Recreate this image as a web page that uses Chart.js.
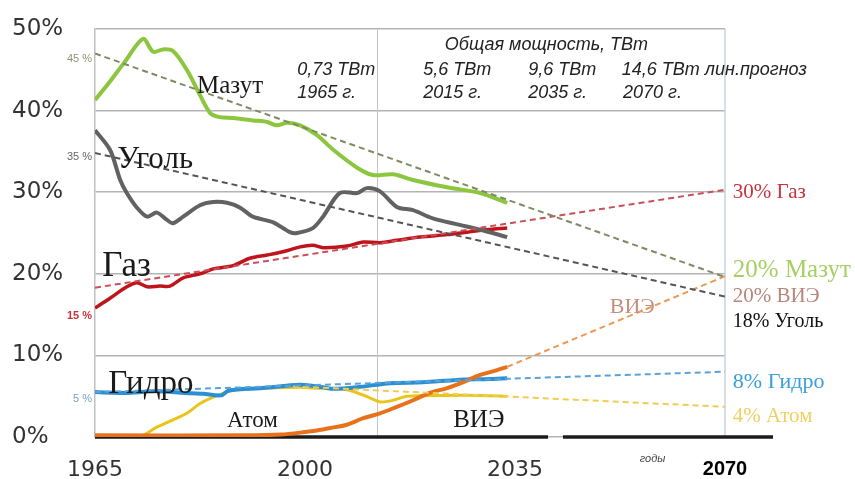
<!DOCTYPE html>
<html lang="ru">
<head>
<meta charset="utf-8">
<title>Доли источников в мировой энергетике</title>
<script src="https://cdn.jsdelivr.net/npm/chart.js@4.4.1/dist/chart.umd.min.js"></script>
<style>
  html, body { margin: 0; padding: 0; background: #fff; }
</style>
</head>
<body>
<canvas id="shareChart" width="855" height="479"></canvas>
<script>
// ---- data (годы / доля, %) ----
const xTicks = [1965, 2000, 2035, 2070];
const yTicks = [0, 10, 20, 30, 40, 50];

const mazutYears = [1965, 1967, 1970, 1973, 1974.7, 1976.3, 1978, 1980.3, 1982.5, 1984.2, 1985.8, 1988, 1991.3, 1993.7, 1995.3, 1997, 1999.2, 2002, 2004.7, 2008.7, 2011.3, 2014.7, 2018, 2023.7, 2029.2, 2033.7];
const mazut = [41.3, 43.1, 46.0, 48.8, 47.2, 47.5, 47.3, 45.0, 41.9, 39.7, 39.2, 39.1, 38.8, 38.6, 38.2, 38.5, 38.2, 37.0, 35.2, 33.0, 32.1, 32.2, 31.5, 30.6, 29.9, 28.7];

const coalYears = [1965, 1967.5, 1969.2, 1970.3, 1972, 1973.7, 1975.3, 1977, 1978, 1979.7, 1982.5, 1984.7, 1987, 1989.2, 1991.3, 1994.7, 1997.5, 1998.7, 2001.3, 2003, 2005.8, 2008.7, 2010.3, 2012.5, 2015.3, 2018, 2021.3, 2025.8, 2029.2, 2033.7];
const coal = [37.6, 35.2, 31.5, 29.9, 28.1, 27.0, 27.5, 26.6, 26.2, 27.0, 28.4, 28.8, 28.7, 28.1, 27.0, 26.3, 25.1, 25.0, 25.6, 27.0, 29.9, 29.9, 30.5, 30.1, 28.2, 27.8, 26.8, 26.0, 25.4, 24.5];

const gasYears = [1965, 1967.5, 1970.3, 1972, 1973.7, 1975.8, 1977.5, 1979.7, 1982.5, 1984.7, 1988, 1990.8, 1993.7, 1996.3, 1999.2, 2001.3, 2003, 2007, 2009.7, 2012.5, 2015.3, 2019.2, 2023.7, 2027, 2030.3, 2033.7];
const gas = [15.8, 17.0, 18.4, 18.9, 18.4, 18.5, 18.5, 19.5, 20.0, 20.6, 21.0, 21.9, 22.3, 22.7, 23.3, 23.5, 23.2, 23.4, 23.9, 23.8, 24.1, 24.5, 24.8, 25.1, 25.4, 25.6];

const hydroYears = [1965, 1970, 1975, 1980, 1983, 1986, 1987.3, 1993, 1999.2, 2003, 2004.7, 2008.7, 2014.2, 2019.7, 2025.3, 2030.8, 2033.7];
const hydro = [5.5, 5.4, 5.6, 5.4, 5.3, 5.1, 5.7, 6.0, 6.4, 6.1, 5.9, 6.1, 6.6, 6.7, 7.0, 7.1, 7.2];

const atomYears = [1965, 1972.5, 1975.3, 1978, 1980.3, 1982.5, 1984.7, 1987, 1989.2, 1993.7, 1999.2, 2001.3, 2007, 2010.8, 2012.5, 2014.7, 2017, 2023.7, 2029.2, 2033.7];
const atom = [0, 0.1, 1.2, 2.1, 2.9, 4.1, 4.9, 5.5, 5.9, 6.0, 6.1, 6.0, 5.8, 4.8, 4.3, 4.5, 5.0, 5.1, 5.1, 5.0];

const resYears = [1965, 1990, 1996, 2000, 2002, 2004.2, 2007, 2009.7, 2012.5, 2015.3, 2018, 2020.8, 2023.7, 2026.3, 2029.2, 2032, 2033.7];
const res = [0.2, 0.2, 0.3, 0.6, 0.8, 1.1, 1.5, 2.3, 2.9, 3.7, 4.5, 5.4, 6.0, 6.7, 7.6, 8.2, 8.6];

// линейные прогнозы
const trendYears = [1965, 2070];
const mazutTrend = [47.0, 19.6];
const coalTrend = [34.8, 17.2];
const gasTrend = [18.3, 30.3];
const hydroTrend = [5.5, 8.0];
const atomTrendYears = [1998, 2070];
const atomTrend = [6.2, 3.7];
const resTrendYears = [2033.7, 2070];
const resTrend = [8.6, 19.7];

const toPoints = (xs, ys) => xs.map((x, i) => ({ x: x, y: ys[i] }));

const SERIF = "'Liberation Serif', 'DejaVu Serif', serif";
const SANS = "'Liberation Sans', Arial, sans-serif";

// подписи (позиции в координатах год / %)
const notes = [
  { t: "Мазут", x: 1982, y: 42.2, f: "25px " + SERIF, c: "#1a1a1a" },
  { t: "Уголь", x: 1968.7, y: 33.0, f: "31px " + SERIF, c: "#1a1a1a" },
  { t: "Газ", x: 1966.2, y: 19.7, f: "35px " + SERIF, c: "#1a1a1a" },
  { t: "Гидро", x: 1967.2, y: 5.4, f: "33px " + SERIF, c: "#1a1a1a" },
  { t: "Атом", x: 1987, y: 1.2, f: "23px " + SERIF, c: "#1a1a1a" },
  { t: "ВИЭ", x: 2024.7, y: 1.2, f: "25px " + SERIF, c: "#1a1a1a" },
  { t: "ВИЭ", x: 2050.8, y: 15.2, f: "22px " + SERIF, c: "#c4907e" },
  { t: "30% Газ", x: 2071.3, y: 29.3, f: "21px " + SERIF, c: "#c8323c" },
  { t: "20% Мазут", x: 2071.3, y: 19.6, f: "25px " + SERIF, c: "#a6d064" },
  { t: "20% ВИЭ", x: 2071.3, y: 16.5, f: "21px " + SERIF, c: "#b8857c" },
  { t: "18% Уголь", x: 2071.3, y: 13.5, f: "20px " + SERIF, c: "#111" },
  { t: "8% Гидро", x: 2071.3, y: 6.0, f: "22px " + SERIF, c: "#3a9fd6" },
  { t: "4% Атом", x: 2071.3, y: 1.8, f: "21px " + SERIF, c: "#f0d060" },
  { t: "45 %", x: 1964.5, y: 46.3, f: "11px " + SANS, c: "#8a9870", a: "right" },
  { t: "35 %", x: 1964.5, y: 34.3, f: "11px " + SANS, c: "#666", a: "right" },
  { t: "15 %", x: 1964.5, y: 14.8, f: "bold 11px " + SANS, c: "#c8323c", a: "right" },
  { t: "5 %", x: 1964.5, y: 4.6, f: "11px " + SANS, c: "#7aa0c8", a: "right" },
  { t: "Общая мощность, ТВт", x: 2023.3, y: 47.4, f: "italic 18px " + SANS, c: "#222" },
  { t: "0,73 ТВт", x: 1998.7, y: 44.4, f: "italic 18px " + SANS, c: "#222" },
  { t: "1965 г.", x: 1998.7, y: 41.5, f: "italic 18px " + SANS, c: "#222" },
  { t: "5,6 ТВт", x: 2019.7, y: 44.4, f: "italic 18px " + SANS, c: "#222" },
  { t: "2015 г.", x: 2019.7, y: 41.5, f: "italic 18px " + SANS, c: "#222" },
  { t: "9,6 ТВт", x: 2037.2, y: 44.4, f: "italic 18px " + SANS, c: "#222" },
  { t: "2035 г.", x: 2037.2, y: 41.5, f: "italic 18px " + SANS, c: "#222" },
  { t: "14,6 ТВт лин.прогноз", x: 2052.8, y: 44.4, f: "italic 18px " + SANS, c: "#222" },
  { t: "2070 г.", x: 2053, y: 41.5, f: "italic 18px " + SANS, c: "#222" },
  { t: "годы", x: 2055.8, y: -3.1, f: "italic 11px " + SANS, c: "#444" }
];

// рамка: вертикальные линии и жирная ось
const framePlugin = {
  id: "frame",
  beforeDatasetsDraw(chart) {
    const { ctx, chartArea: a, scales: { x, y } } = chart;
    ctx.save();
    ctx.lineWidth = 1;
    ctx.strokeStyle = "#c4c4c4";
    let px = Math.round(x.getPixelForValue(2012)) + 0.5;
    ctx.beginPath(); ctx.moveTo(px, a.top); ctx.lineTo(px, a.bottom); ctx.stroke();
    ctx.strokeStyle = "#c6d3dd";
    ctx.lineWidth = 1.5;
    px = x.getPixelForValue(2070);
    ctx.beginPath(); ctx.moveTo(px, a.top); ctx.lineTo(px, a.bottom); ctx.stroke();

    const y0 = y.getPixelForValue(0);
    ctx.strokeStyle = "#1c1c1c";
    ctx.lineWidth = 3.5;
    ctx.beginPath();
    ctx.moveTo(x.getPixelForValue(1965), y0); ctx.lineTo(x.getPixelForValue(2040.5), y0);
    ctx.moveTo(x.getPixelForValue(2043), y0); ctx.lineTo(x.getPixelForValue(2078), y0);
    ctx.stroke();
    ctx.restore();
  },
  afterDatasetsDraw(chart) {
    const { ctx, scales: { x, y } } = chart;
    ctx.save();
    notes.forEach(n => {
      ctx.font = n.f;
      ctx.fillStyle = n.c;
      ctx.textAlign = n.a || "left";
      ctx.textBaseline = n.a ? "middle" : "alphabetic";
      ctx.fillText(n.t, x.getPixelForValue(n.x), y.getPixelForValue(n.y));
    });
    ctx.restore();
  }
};

function solid(label, xs, ys, color, width, order) {
  return {
    label: label, data: toPoints(xs, ys), borderColor: color, borderWidth: width,
    pointRadius: 0, tension: 0.3, fill: false, order: order
  };
}
function dashed(label, xs, ys, color, order) {
  return {
    label: label, data: toPoints(xs, ys), borderColor: color, borderWidth: 2,
    borderDash: [6, 4], pointRadius: 0, fill: false, order: order
  };
}

new Chart(document.getElementById("shareChart"), {
  type: "line",
  data: {
    datasets: [
      dashed("Мазут прогноз", trendYears, mazutTrend, "#7d8a62", 1),
      dashed("Уголь прогноз", trendYears, coalTrend, "#555555", 1),
      dashed("Газ прогноз", trendYears, gasTrend, "#c8505a", 1),
      dashed("Гидро прогноз", trendYears, hydroTrend, "#5aa2d8", 1),
      dashed("Атом прогноз", atomTrendYears, atomTrend, "#f0cc50", 1),
      dashed("ВИЭ прогноз", resTrendYears, resTrend, "#eb9a55", 1),
      solid("Мазут", mazutYears, mazut, "#8cc63e", 4, 3),
      solid("Уголь", coalYears, coal, "#626262", 4, 3),
      solid("Газ", gasYears, gas, "#c0141c", 3.5, 3),
      solid("Гидро", hydroYears, hydro, "#2b8fd3", 4, 4),
      solid("ВИЭ", resYears, res, "#e8721c", 4, 2),
      solid("Атом", atomYears, atom, "#e8c51d", 3, 5)
    ]
  },
  options: {
    responsive: false,
    animation: false,
    layout: { padding: { left: 12, right: 130, top: 29, bottom: 0 } },
    plugins: { legend: { display: false }, tooltip: { enabled: false } },
    scales: {
      x: {
        type: "linear",
        min: 1965,
        max: 2070,
        grid: { display: false },
        border: { display: false },
        afterBuildTicks: s => { s.ticks = xTicks.map(v => ({ value: v })); },
        afterFit: s => { s.height = 42; },
        ticks: {
          padding: 12,
          maxRotation: 0,
          autoSkip: false,
          color: c => (c.tick && c.tick.value === 2070 ? "#000" : "#333"),
          font: c => (c.tick && c.tick.value === 2070
            ? { family: SANS, size: 20, weight: "bold" }
            : { family: "'DejaVu Sans', sans-serif", size: 22 }),
          callback: v => String(v)
        }
      },
      y: {
        min: 0,
        max: 50,
        grid: { color: "#b4b4b4", lineWidth: 1.5, drawTicks: false },
        border: { display: true, color: "#c0c0c0", width: 1.5 },
        afterBuildTicks: s => { s.ticks = yTicks.map(v => ({ value: v })); },
        afterFit: s => { s.width = 83; },
        ticks: {
          crossAlign: "far",
          padding: 0,
          color: "#333",
          font: { family: "'DejaVu Sans', sans-serif", size: 23 },
          callback: v => v + "%"
        }
      }
    }
  },
  plugins: [framePlugin]
});
</script>
</body>
</html>
